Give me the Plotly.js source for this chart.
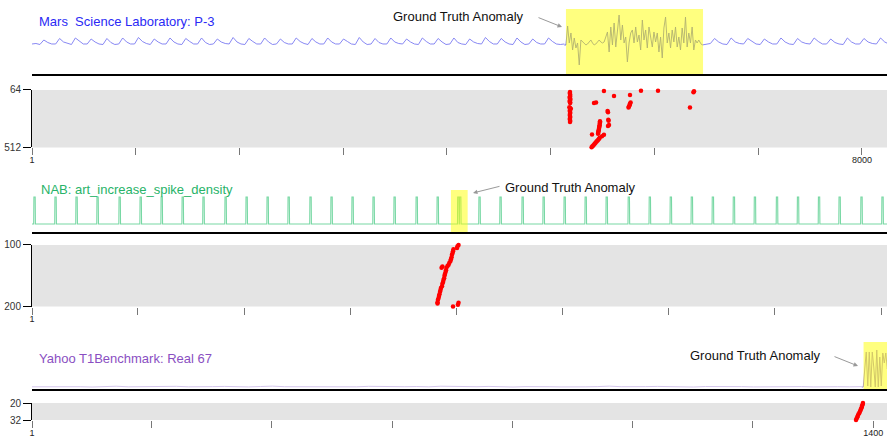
<!DOCTYPE html>
<html><head><meta charset="utf-8">
<script src="https://cdn.plot.ly/plotly-3.0.1.min.js"></script>
<style>html,body{margin:0;padding:0;background:#fff}#chart{width:887px;height:437px}</style>
</head><body><div id="chart"></div>
<script>
// ---------- DATA ----------
// Mars Science Laboratory P-3: normal periodic signal before the anomaly (step 38)
const mslPre = [0,0.5,-0.5,
 4,1.5,0,0, 5.5,2,0.5,-0.5, 6,2.5,0,0, 5,2,0,-0.5, 5.5,1.5,-0.5,0, 6,2,0,0,
 6.5,2.5,0.5,-0.5, 5,2,0,0, 6,2,0,-0.5, 5.5,2.5,0,0, 6,1.5,-0.5,0, 5,2,0.5,0,
 6.5,2,0,-0.5, 5.5,2.5,0,0, 6,2,-0.5,0, 5,1.5,0,0, 6,2.5,0.5,-0.5, 5.5,2,0,0,
 6,2,0,0, 5,2.5,0,-0.5, 6.5,2,-0.5,0, 5.5,1.5,0,0, 6,2,0.5,0, 5,2,0,-0.5,
 6,2.5,0,0, 5.5,2,-0.5,0, 6,1.5,0,-0.5, 5,2,0.5,0, 6.5,2.5,0,0, 5.5,2,0,-0.5,
 6,2,-0.5,0, 5,1.5,0,0, 6,2.5,0,-0.5,
 0];
// anomalous segment (step 16)
const mslAnom = [-1,-1,18,1,11,-6,6,-4,1,-21,4,2,1,-1,0,2,4,1,-1,0,2,4,2,1,2,7,12,-8,17,-1,
 21,-3,14,29,4,19,1,7,-18,1,11,14,1,17,2,9,-6,24,4,14,-4,17,7,-3,12,2,11,-8,7,-14,
 16,27,1,11,-4,14,2,17,-3,7,-6,16,1,27,-3,11,1,17,-6,4,1,4,1,-1];
// normal signal after the anomaly (step 40)
const mslPost = [-1,0,0.5,5.5,2,0,-0.5,6,2,0.5,0,5.5,2.5,0,-0.5,5,2,0,0,6,2,0,-0.5,5.5,
 2,0.5,0,6,2.5,0,0,5,1.5,0,-0.5,6,2,0,0,5.5,2,0.5,0,6,2,0];
const mslAnomalyWindow = [5147, 6468];
const mslScoreX = [5186,5184,5186,5188,5186,5184,5186,5188,5186,5184,5186,5188,
 5180,5186,5194,5186,5184,5186,5188,5186,5184,5186,5188,5186,5184,5186,5188,5186,
 5513,5610,5417,5437,5764,5870,6034,6381,6376,6342,
 5770,5764,5760,5754,5750,5548,5552,5555,5558,5562,5552,
 5475,5475,5473,5471,5469,5467,5465,5462,5460,5458,5456,
 5398,5494,5513,
 5394,5402,5410,5418,5426,5434,5442,5450,5458,5466,5472];
const mslScoreY = [80,88,96,104,112,120,128,136,144,152,160,166,
 198,204,210,218,226,234,242,250,258,266,274,282,290,298,306,314,
 72,111,166,162,103,70,70,74,82,200,
 162,172,182,192,200,228,238,296,304,336,344,
 308,318,328,338,348,358,368,378,388,398,404,
 410,425,413,
 510,503,496,488,481,474,466,459,451,444,436];
const mslTicks = [1,1000,2000,3000,4000,5000,6000,7000,8000];
const mslTickText = ['1','','','','','','','','8000'];
const mslScoreTicks = [64,512];

// NAB art_increase_spike_density: spike onsets (baseline 0, spike level 1)
const nabSpikeStart = [10,109,208,307,411,510,609,708,806,910,1009,1108,1207,1310,1409,
 1508,1607,1706,1810,1909,2006,2015,2106,2205,2309,2408,2507,2606,2705,2809,2908,3007,
 3106,3205,3304,3403,3507,3606,3705,3802,3905,4004];
const nabSpikeLen = 7;
const nabBase = 0, nabPeak = 1;
const nabAnomalyWindow = [1974, 2053];
const nabScoreX = [2010,2005,2003,1986,1984,1982,1979,1977,1974,1972,1967,1963,1958,1953,
 1951,1949,1946,1944,1942,1939,1937,1934,1932,1927,1925,1923,1920,1918,1916,1913,1911,1911,
 1934,1930,1984,2007,2010];
const nabScoreY = [100,102,105,107,110,113,116,120,123,126,129,132,134,137,141,144,147,150,
 154,157,160,163,167,170,173,176,180,183,186,189,193,195,135,137,200,197,194];
const nabTicks = [1,500,1000,1500,2000,2500,3000,3500,4000];
const nabTickText = ['1','','','','','','','','4000'];
const nabScoreTicks = [100,200];

// Yahoo T1Benchmark Real 67
const yahooNormal = [2.2,2.4,2.1,2.6,2.3,2.0,2.5,2.8,2.2,2.4, 2.1,2.3,2.7,2.2,2.0,2.4,2.6,2.3,2.1,2.5,
 2.9,2.3,2.2,2.4,2.0,2.6,2.3,2.2,2.7,2.4, 2.1,2.3,2.5,2.2,2.8,2.4,2.1,2.3,2.6,2.2,
 2.0,2.4,2.7,2.3,2.1,2.5,2.2,2.4,2.9,2.3, 2.1,2.4,2.6,2.2,2.3,2.0,2.5,2.7,2.2,2.4,
 2.1,2.3,2.6,2.2,2.4,2.1,2.5,2.3,2.2,2.4];
const yahooAnom = [2,2,20,37,3,37,2,37,22,2,39,2,32,3,36,26,36,20,30];
const yahooAnomalyWindow = [1384, 1430];
const yahooScoreX = [1383,1382.5,1381.5,1381,1380,1379,1378,1377,1375.5,1374.5,1373.5,1372.5,1371.5];
const yahooScoreY = [20,21,22,23,24,25,26,27,28,29,30,31,32];
const yahooTicks = [1,200,400,600,800,1000,1200,1400];
const yahooTickText = ['1','','','','','','','1400'];
const yahooScoreTicks = [20,32];

// ---------- build ----------
const FONT = '"Liberation Sans", Arial, Helvetica, sans-serif';
const nabX = [1], nabY = [nabBase];
nabSpikeStart.forEach(s => {
  nabX.push(s - 1, s, s + nabSpikeLen - 1, s + nabSpikeLen);
  nabY.push(nabBase, nabPeak, nabPeak, nabBase);
});
nabX.push(4028); nabY.push(nabBase);

const MSL_C = '#7b7bf2', NAB_C = '#78d8a4', YAH_C = '#d4c6ec';
const dots = (x, y, xa, ya) => ({x, y, xaxis:xa, yaxis:ya, type:'scatter', mode:'markers',
  cliponaxis:false, marker:{color:'#ff0000', size:4.5, line:{width:0}}, hoverinfo:'skip'});
const traces = [
  {x0:1, dx:38, y:mslPre, xaxis:'x', yaxis:'y', type:'scatter', mode:'lines', line:{color:MSL_C, width:0.9}},
  {x0:5131, dx:16, y:mslAnom, xaxis:'x', yaxis:'y', type:'scatter', mode:'lines', line:{color:'#6464e0', width:0.9}},
  {x0:6459, dx:40, y:mslPost, xaxis:'x', yaxis:'y', type:'scatter', mode:'lines', line:{color:MSL_C, width:0.9}},
  dots(mslScoreX, mslScoreY, 'x2', 'y2'),
  {x:nabX, y:nabY, xaxis:'x3', yaxis:'y3', type:'scatter', mode:'lines', line:{color:NAB_C, width:1.1}},
  dots(nabScoreX, nabScoreY, 'x4', 'y4'),
  {x0:1, dx:20, y:yahooNormal, xaxis:'x5', yaxis:'y5', type:'scatter', mode:'lines', line:{color:YAH_C, width:1}},
  {x0:1381, dx:2.5, y:yahooAnom, xaxis:'x5', yaxis:'y5', type:'scatter', mode:'lines', line:{color:'#a58fd0', width:1}},
  dots(yahooScoreX, yahooScoreY, 'x6', 'y6')
];

const tsX = (range, anchor) => ({range, anchor, showline:true, linecolor:'#000', linewidth:1.6,
  ticks:'', showticklabels:false, showgrid:false, zeroline:false, automargin:false, fixedrange:true});
const tsY = (domain, range, anchor) => ({domain, range, anchor, visible:false, fixedrange:true});
const scX = (range, anchor, tickvals, ticktext) => ({range, anchor, showline:false, ticks:'outside',
  ticklen:7, tickwidth:1, tickcolor:'#777', tickvals, ticktext, ticklabelstandoff:-3,
  tickfont:{size:9, color:'#222', family:FONT},
  showgrid:false, zeroline:false, automargin:false, fixedrange:true});
const scY = (domain, range, anchor, tickvals) => ({domain, range, anchor, showline:true, linecolor:'#000',
  linewidth:1, ticks:'outside', ticklen:8, tickwidth:1, tickcolor:'#000', tickvals,
  tickfont:{size:10, color:'#333', family:FONT}, showgrid:false, zeroline:false, automargin:false, fixedrange:true});

const grey = (xa, ya) => ({type:'rect', xref:xa + ' domain', yref:ya + ' domain', x0:0, x1:1, y0:0, y1:1,
  fillcolor:'#e4e4e4', line:{width:0}, layer:'below'});
const yellow = (xa, ya, w) => ({type:'rect', xref:xa, yref:ya + ' domain', x0:w[0], x1:w[1], y0:0, y1:1,
  fillcolor:'rgba(255,255,0,0.5)', line:{width:0}, layer:'above'});

const title = (text, x, y, color) => ({text, x, y, xref:'paper', yref:'paper', xanchor:'left', yanchor:'middle',
  showarrow:false, font:{size:13, color, family:FONT}});
const gtText = (x, y) => ({text:'Ground Truth Anomaly', x, y, xref:'paper', yref:'paper', xanchor:'center',
  yanchor:'middle', showarrow:false, font:{size:13, color:'#111', family:FONT}});
const gtArrow = (x, y, ax, ay) => ({text:'', x, y, xref:'paper', yref:'paper', ax, ay, axref:'pixel', ayref:'pixel',
  showarrow:true, arrowhead:2, arrowsize:0.9, arrowwidth:1, arrowcolor:'#999'});

const layout = {
  width:887, height:437, margin:{l:32, r:0, t:0, b:0}, showlegend:false,
  paper_bgcolor:'#fff', plot_bgcolor:'#fff', font:{family:FONT, size:10, color:'#333'},
  xaxis: tsX([1, 8241], 'y'),
  yaxis: tsY([0.8307, 0.9794], [-30, 35], 'x'),
  xaxis2: scX([1, 8241], 'y2', mslTicks, mslTickText),
  yaxis2: scY([0.6625, 0.7941], [512, 64], 'x2', mslScoreTicks),
  xaxis3: tsX([1, 4028], 'y3'),
  yaxis3: tsY([0.4691, 0.5652], [-0.296, 1.259], 'x3'),
  xaxis4: scX([1, 4028], 'y4', nabTicks, nabTickText),
  yaxis4: scY([0.2986, 0.4394], [200, 100], 'x4', nabScoreTicks),
  xaxis5: tsX([1, 1423], 'y5'),
  yaxis5: tsY([0.1098, 0.2174], [0, 47], 'x5'),
  xaxis6: scX([1, 1423], 'y6', yahooTicks, yahooTickText),
  yaxis6: scY([0.0389, 0.0778], [32, 20], 'x6', yahooScoreTicks),
  shapes: [grey('x2','y2'), grey('x4','y4'), grey('x6','y6'),
    yellow('x','y', mslAnomalyWindow), yellow('x3','y3', nabAnomalyWindow), yellow('x5','y5', yahooAnomalyWindow)],
  annotations: [
    title('Mars  Science Laboratory: P-3', 0.0058, 0.9497, '#2a2af5'),
    title('NAB: art_increase_spike_density', 0.0082, 0.5675, '#27b368'),
    title('Yahoo T1Benchmark: Real 67', 0.0058, 0.1785, '#8a4fc2'),
    gtText(0.4988, 0.9611), gtArrow(0.6199, 0.9382, -25, -10),
    gtText(0.6298, 0.5698), gtArrow(0.5158, 0.5584, 28, -7),
    gtText(0.8462, 0.1854), gtArrow(0.9661, 0.1625, -25, -10)
  ]
};
Plotly.newPlot('chart', traces, layout, {staticPlot:true, displayModeBar:false});
</script></body></html>
